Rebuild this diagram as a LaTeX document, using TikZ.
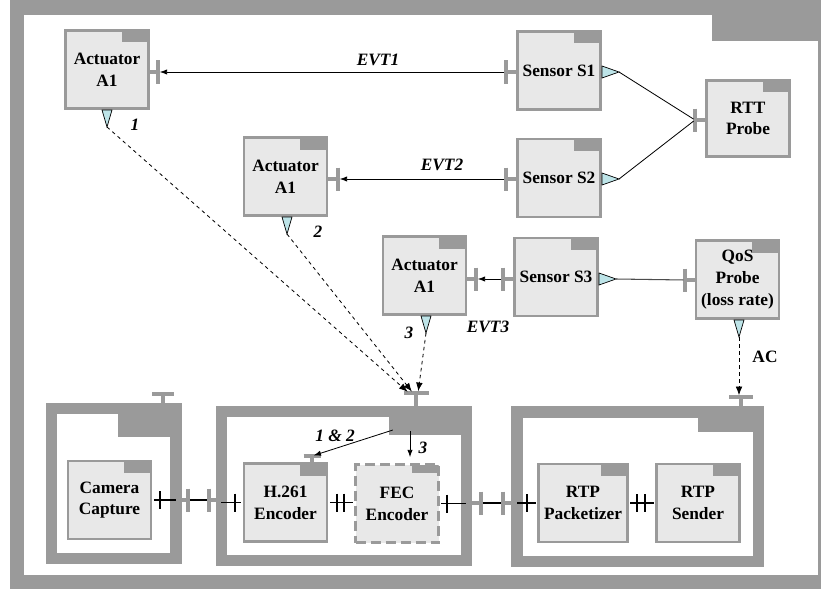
\documentclass[tikz,border=0pt]{standalone}
\usepackage{fontspec}
\setmainfont{Liberation Serif}
\usetikzlibrary{arrows.meta,calc}

\definecolor{portgray}{HTML}{9A9A9A}
\definecolor{boxfill}{HTML}{E8E8E8}
\definecolor{outcyan}{HTML}{BDE4E8}

\begin{document}
\begin{tikzpicture}[
  x=0.03cm, y=-0.03cm,
  foldertab/.style 2 args={path picture={\fill[portgray]
      ([xshift=-#1]path picture bounding box.north east) rectangle
      ([yshift=-#2]path picture bounding box.north east);}},
  comp/.style={rectangle, draw=portgray, line width=2.5pt, fill=boxfill,
               minimum width=2.49cm, minimum height=2.34cm, inner sep=1pt,
               align=center, font=\fontsize{14.8}{18.5}\selectfont\bfseries,
               foldertab={0.8cm}{0.36cm}},
  pkg/.style={rectangle, draw=portgray, line width=9.4pt, fill=white, inner sep=0pt},
  port/.style={draw=portgray, line width=3pt},
  wire/.style={draw=black, line width=1.1pt, shorten <=1.25pt, shorten >=1.25pt},
  outtri/.style={draw=black, fill=outcyan, line width=0.6pt},
  evt/.style={-{Latex[length=2.2mm,width=1.6mm]}, line width=0.7pt,
              shorten >=1.5pt, shorten <=1.5pt},
  ctrl/.style={-{Latex[length=2.6mm,width=2mm]}, dashed, line width=0.7pt,
               shorten >=1.5pt},
  lbl/.style={font=\fontsize{14.8}{18.5}\selectfont\bfseries\itshape},
]

\useasboundingbox (0,0) rectangle (821,590);
\fill[portgray] (10,0) rectangle (821,589);
\fill[white] (24,15) rectangle (818,575);
\fill[portgray] (712,15) rectangle (818,41);

\node[pkg, minimum width=3.735cm, minimum height=4.485cm, foldertab={1.74cm}{0.855cm}]
  (capBox) at (113.75,483.25) {};
\node[pkg, minimum width=7.335cm, minimum height=4.455cm, foldertab={2.31cm}{0.705cm}]
  (encBox) at (343.75,485.75) {};
\node[pkg, minimum width=7.23cm, minimum height=4.47cm, foldertab={1.8cm}{0.6cm}]
  (rtpBox) at (637.5,486.5) {};

\node[comp] (actA) at (107,69.5) {Actuator\\A1};
\node[comp] (actB) at (285.5,176.5) {Actuator\\A1};
\node[comp] (actC) at (424.5,275.5) {Actuator\\A1};
\node[comp] (senA) at (559,70.5) {Sensor S1};
\node[comp] (senB) at (559,178) {Sensor S2};
\node[comp] (senC) at (556,277) {Sensor S3};
\node[comp, minimum height=2.28cm] (rtt) at (748,118.5) {RTT\\Probe};
\node[comp] (qos) at (737.5,279.5) {QoS\\Probe\\(loss rate)};
\node[comp] (cam) at (109.5,500) {Camera\\Capture};
\node[comp] (h261) at (285.5,502.5) {H.261\\Encoder};
\node[comp, dash pattern=on 0.3cm off 0.15cm, foldertab={0.8cm}{0.26cm}]
  (fec) at (397,503.5) {FEC\\Encoder};
\node[comp, minimum width=2.67cm] (pack) at (583,503) {RTP\\Packetizer};
\node[comp] (send) at (698,503) {RTP\\Sender};

\foreach \p/\n/\x/\y/\s in {actA-in/actA/158/72/east, actB-in/actB/338/179/east,
    actC-in/actC/476/279/east, senA-in/senA/506/72/west, senB-in/senB/506/179/west,
    senC-in/senC/503/279/west, rtt-in/rtt/695/120/west, qos-in/qos/685/280/west,
    capBox-out/capBox/188/500/east, encBox-in/encBox/209/500/west,
    encBox-out/encBox/481/503/east, rtpBox-in/rtpBox/503/503/west}
  \draw[port] (\n.\s |- \x,\y) -- (\x,\y) coordinate (\p) ++(0,-11.5) -- ++(0,23);

\foreach \n/\x/\y/\w in {capBox/163/394/11, encBox/416/393/12.5,
    rtpBox/741/397/12, h261/312/456/8.5}
  \draw[port] (\n.north -| \x,\y) -- (\x,\y) coordinate (\n-top) ++(-\w,0) -- ++(2*\w,0);

\foreach \n/\x/\y in {actA/107/110, actB/287/217, actC/426/316, qos/739/320}
  \draw[outtri] (\x-5,\y) -- (\x+5,\y) -- (\x,\y+17) coordinate (\n-out) -- cycle;
\foreach \n/\x/\y in {senA/602/72, senB/602/179, senC/599/279}
  \draw[outtri] (\x,\y-6) -- (\x+17,\y) coordinate (\n-out) -- (\x,\y+6) -- cycle;

\draw[wire, shorten >=4.7pt] (cam.east) -- (cam.east -| capBox.east);
\draw[wire, shorten <=1.5pt, shorten >=1.5pt] (capBox-out) -- (encBox-in);
\draw[wire, shorten <=4.7pt] (encBox.west |- h261.west) -- (h261.west);
\draw[wire] (h261.east) -- (h261.east -| fec.west);
\draw[wire, shorten >=4.7pt] (fec.east) -- (fec.east -| encBox.east);
\draw[wire, shorten <=1.5pt, shorten >=1.5pt] (encBox-out) -- (rtpBox-in);
\draw[wire, shorten <=4.7pt] (rtpBox.west |- pack.west) -- (pack.west);
\draw[wire] (pack.east) -- (pack.east -| send.west);

\foreach \x/\y in {160/500, 235/502.5, 337/502.5, 344/502.5, 447/503.5,
    527/503, 637/503, 645/503}
  \draw[wire, shorten <=0pt, shorten >=0pt] (\x,\y-9) -- (\x,\y+9);

\draw[evt] (senA-in) -- (actA-in);
\draw[evt] (senB-in) -- (actB-in);
\draw[evt] (senC-in) -- (actC-in);
\draw[line width=0.7pt, shorten >=1.5pt] (senA-out) -- (rtt-in);
\draw[line width=0.7pt, shorten >=1.5pt] (senB-out) -- (rtt-in);
\draw[line width=0.9pt, black!70, shorten >=1.5pt] (senC-out) -- (qos-in);

\draw[ctrl] (actA-out) -- ($(encBox-top)+(-7,0)$);
\draw[ctrl] (actB-out) -- ($(encBox-top)+(-3,0)$);
\draw[ctrl] (actC-out) -- ($(encBox-top)+(2,0)$);
\draw[ctrl] (qos-out) -- (qos-out |- rtpBox-top);

\coordinate (encTab) at ([xshift=-2.31cm, yshift=-0.705cm]encBox.north east);
\draw[evt] (encTab) -- (h261-top);
\draw[evt, shorten >=5pt] (encTab -| 410,0) -- (fec.north -| 410,0);

\node[lbl] (evt1) at (378,60) {EVT1};
\node[lbl] (evt2) at (442,165) {EVT2};
\node[lbl] (evt3) at (488,327) {EVT3};
\node[lbl] (num1) at (135,125) {1};
\node[lbl] (num2) at (318,232) {2};
\node[lbl] (num3) at (409,333) {3};
\node[lbl] (pair) at (335,436) {1 \& 2};
\node[lbl] (fecNum) at (423,448) {3};
\node[font=\fontsize{14.8}{18.5}\selectfont\bfseries] (ac) at (765,357) {AC};

\end{tikzpicture}
\end{document}
